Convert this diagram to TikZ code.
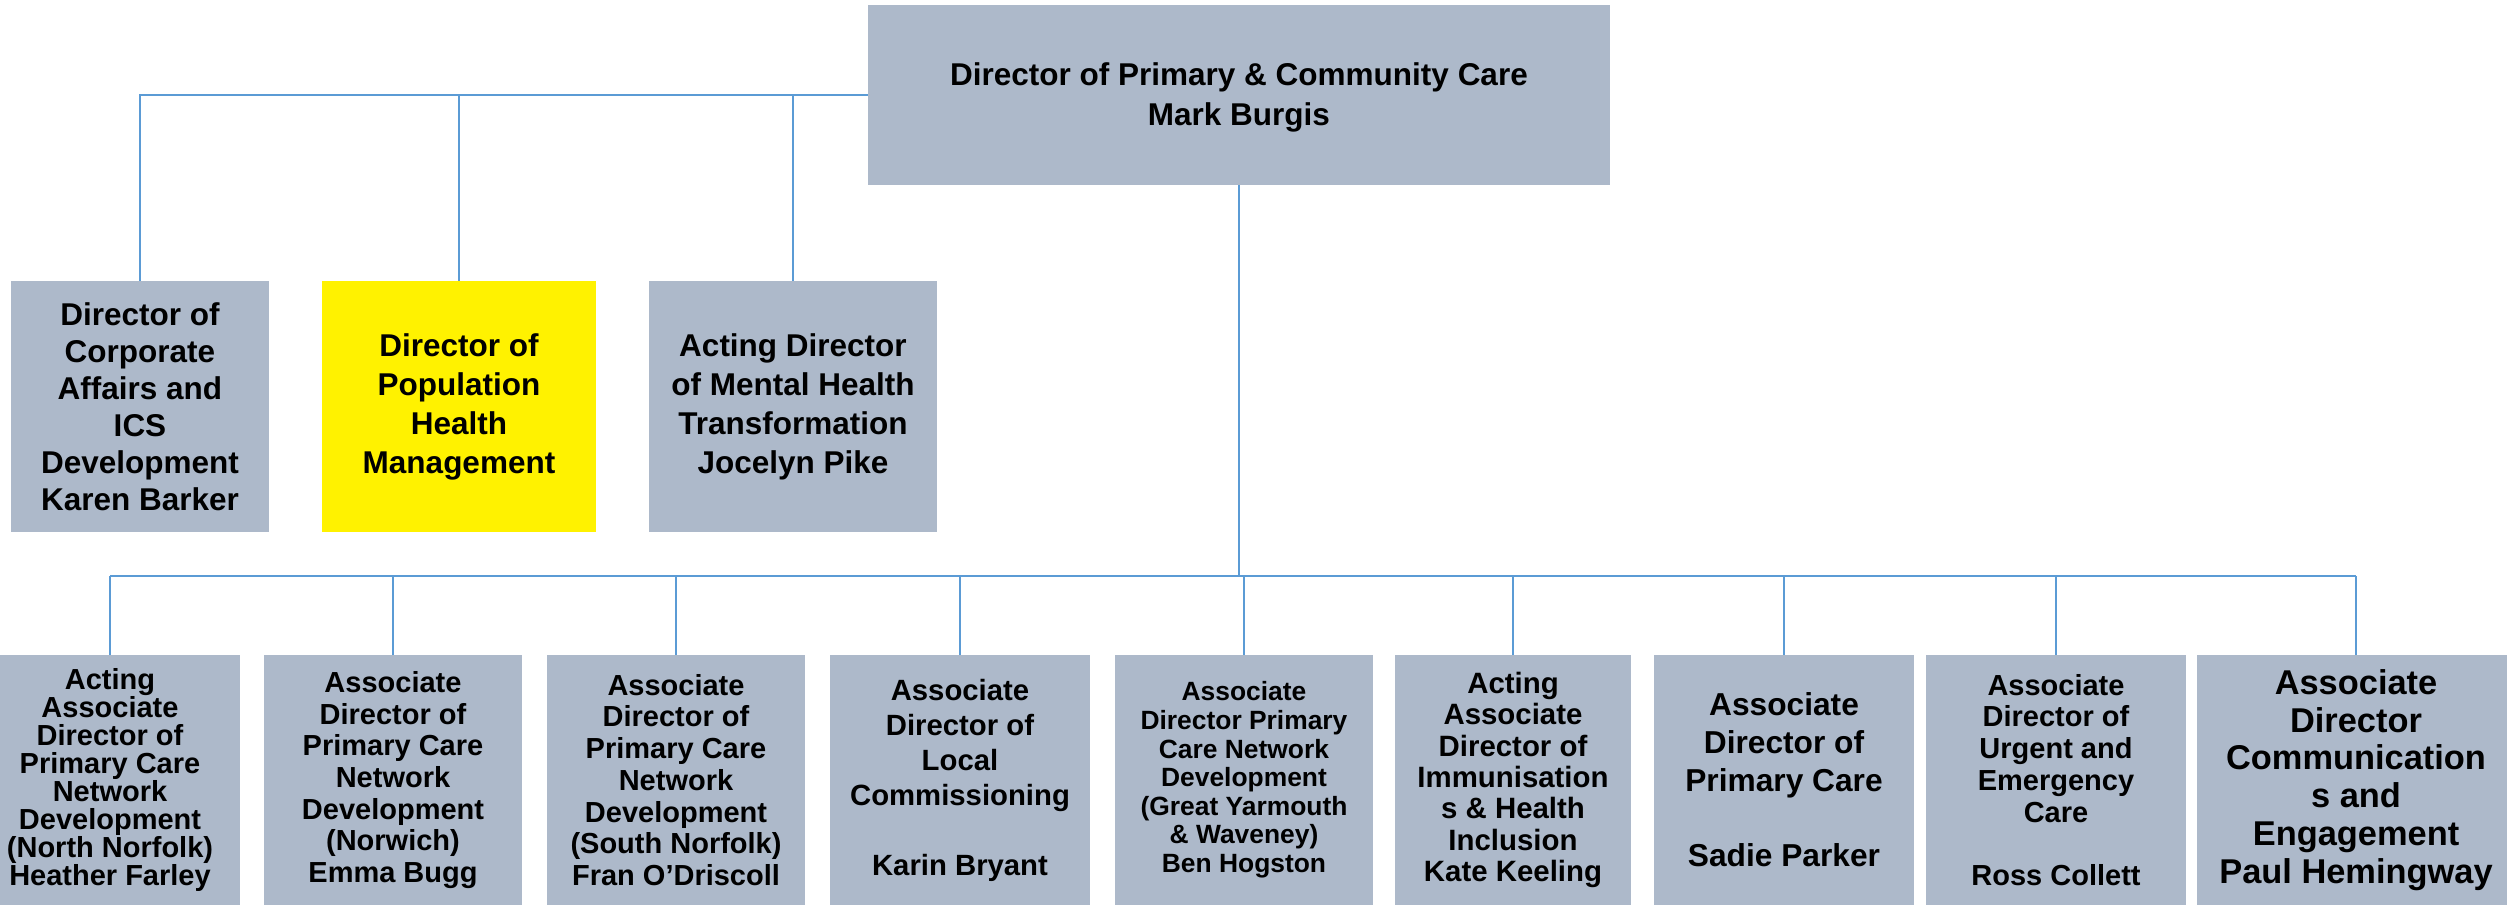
\documentclass[tikz,border=0pt]{standalone}
\usepackage{fontspec}
\setmainfont{Liberation Sans}
\definecolor{boxgray}{RGB}{173,185,202}
\definecolor{linkblue}{RGB}{91,155,213}
\tikzset{
  orgbox/.style={fill=boxgray, draw=none, inner sep=0pt, align=center},
  fs/.style 2 args={font=\fontsize{#1}{#2}\selectfont\bfseries},
  link/.style={draw=linkblue, line width=1.6pt},
}
\begin{document}
\begin{tikzpicture}[x=1pt,y=-1pt]
\useasboundingbox (0,0) rectangle (2507,905);
\clip (0,0) rectangle (2507,905);
% top
\node[orgbox, minimum width=742pt, minimum height=180pt, fs={31.5}{40}] (top) at (1239,95)
  {\rule{0pt}{28pt}Director of Primary \& Community Care\\Mark Burgis};
% second row
\node[orgbox, minimum width=258pt, minimum height=251pt, fs={31.5}{37}] (ra) at (140,406.5)
  {Director of\\Corporate\\Affairs and\\ICS\\Development\\Karen Barker};
\node[orgbox, fill=yellow, minimum width=274pt, minimum height=251pt, fs={31.5}{39}] (rb) at (459,406.5)
  {Director of\\Population\\Health\\Management};
\node[orgbox, minimum width=288pt, minimum height=251pt, fs={31.5}{39}] (rc) at (793,406.5)
  {Acting Director\\of Mental Health\\Transformation\\Jocelyn Pike};
% bottom row
\node[orgbox, minimum width=260pt, minimum height=250pt, fs={29}{28}] (b1) at (110,780)
  {Acting\\Associate\\Director of\\Primary Care\\Network\\Development\\(North Norfolk)\\Heather Farley};
\node[orgbox, minimum width=258pt, minimum height=250pt, fs={29}{31.7}] (b2) at (393,780)
  {Associate\\Director of\\Primary Care\\Network\\Development\\(Norwich)\\Emma Bugg};
\node[orgbox, minimum width=258pt, minimum height=250pt, fs={29}{31.7}] (b3) at (676,780)
  {Associate\\Director of\\Primary Care\\Network\\Development\\(South Norfolk)\\Fran O’Driscoll};
\node[orgbox, minimum width=260pt, minimum height=250pt, fs={29.3}{35}] (b4) at (960,780)
  {Associate\\Director of\\Local\\Commissioning\\~\\Karin Bryant};
\node[orgbox, minimum width=258pt, minimum height=250pt, fs={26.4}{28.6}] (b5) at (1244,780)
  {Associate\\Director Primary\\Care Network\\Development\\(Great Yarmouth\\\& Waveney)\\Ben Hogston};
\node[orgbox, minimum width=236pt, minimum height=250pt, fs={29.4}{31.4}] (b6) at (1513,780)
  {Acting\\Associate\\Director of\\Immunisation\\s \& Health\\Inclusion\\Kate Keeling};
\node[orgbox, minimum width=260pt, minimum height=250pt, fs={31.7}{37.7}] (b7) at (1784,780)
  {Associate\\Director of\\Primary Care\\~\\Sadie Parker};
\node[orgbox, minimum width=260pt, minimum height=250pt, fs={29}{31.7}] (b8) at (2056,780)
  {Associate\\Director of\\Urgent and\\Emergency\\Care\\~\\Ross Collett};
\node[orgbox, minimum width=318pt, minimum height=250pt, fs={34.4}{37.7}] (b9) at (2356,780)
  {Associate\\Director\\Communication\\s and\\Engagement\\Paul Hemingway};
% connectors
\coordinate (bus) at (0,576);
\draw[link] (top.west) -| (ra.north);
\draw[link] (rb.north) -- (rb.north |- top.west);
\draw[link] (rc.north) -- (rc.north |- top.west);
\draw[link] (top.south) -- (top.south |- bus);
\draw[link] (b1.north |- bus) -- (b9.north |- bus);
\foreach \n in {b1,b2,b3,b4,b5,b6,b7,b8,b9}
  \draw[link] (\n.north) -- (\n.north |- bus);
\end{tikzpicture}
\end{document}
